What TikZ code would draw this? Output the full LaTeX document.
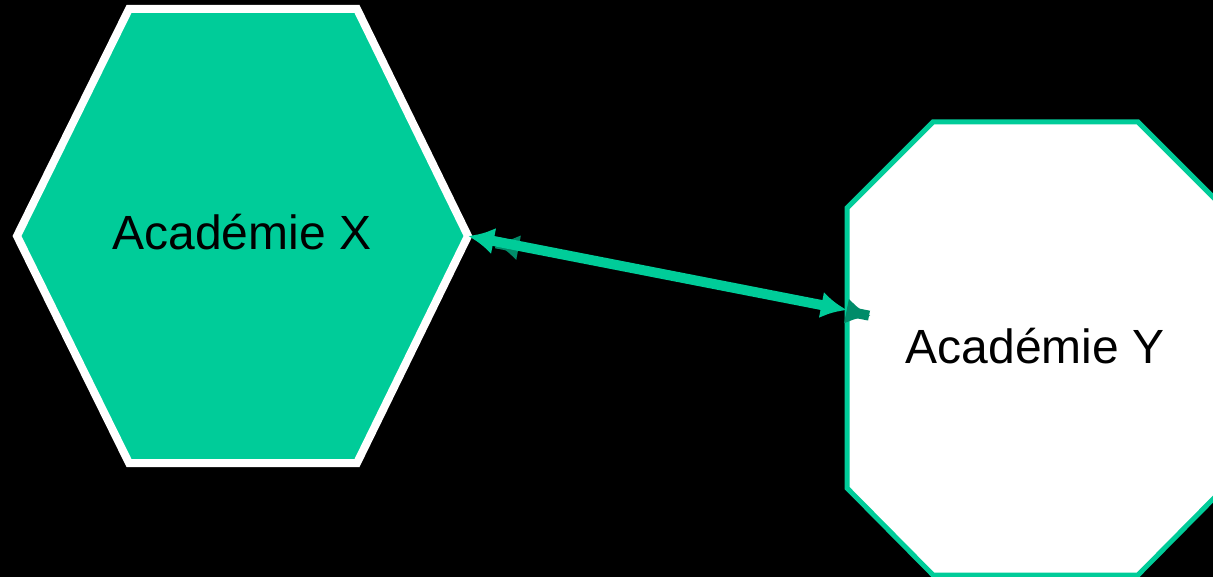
\documentclass[tikz,border=0pt]{standalone}
\usepackage{fontspec}
\setmainfont{Liberation Sans}
\usetikzlibrary{arrows.meta,calc}
\definecolor{mint}{HTML}{00CC99}
\definecolor{darkmint}{HTML}{008C69}
\tikzset{
  lbl/.style={font=\fontsize{48}{56}\selectfont, text=black, anchor=base, inner sep=0pt},
  hexshape/.style={fill=mint, draw=white, line width=8pt, line join=miter},
  octshape/.style={fill=white, draw=mint, line width=5pt, line join=miter},
  link/.style={draw=mint, line width=10pt, {Latex[length=26pt,width=27pt]}-{Latex[length=26pt,width=27pt]}},
  shadowhead/.style={draw=darkmint, fill=darkmint, line width=10pt, -{Latex[length=25pt,width=26pt]}}
}
\begin{document}
\begin{tikzpicture}[x=1pt,y=-1pt]
\fill[black] (0,0) rectangle (1213,577);
\useasboundingbox (0,0) rectangle (1213,577);
\clip (0,0) rectangle (1213,577);
% hexagon
\coordinate (hexE) at (468,236);
\draw[hexshape] (129,9) -- (357,9) -- (hexE) -- (357,463) -- (129,463) -- (17,236) -- cycle;
\node[lbl] (X) at (242,250) {Académie X};
% octagon
\coordinate (octW) at (847,310);
\draw[octshape] (933,122) -- (1138,122) -- (1224,208) -- (1224,488) -- (1138,575) -- (933,575) -- (847,488) -- (octW) -- (847,208) -- cycle;
\node[lbl] (Y) at (1035,363) {Académie Y};
% shadow heads
\coordinate (sR) at ($(octW)+(24,6)$);
\coordinate (sRb) at ($(sR)!2pt!(hexE)$);
\coordinate (sL) at ($(hexE)+(26,7)$);
\coordinate (sLb) at ($(sL)!2pt!(octW)$);
\draw[shadowhead] (sRb) -- (sR);
\draw[shadowhead] (sLb) -- (sL);
% main connector
\draw[link] (hexE) -- (octW);
\end{tikzpicture}
\end{document}
